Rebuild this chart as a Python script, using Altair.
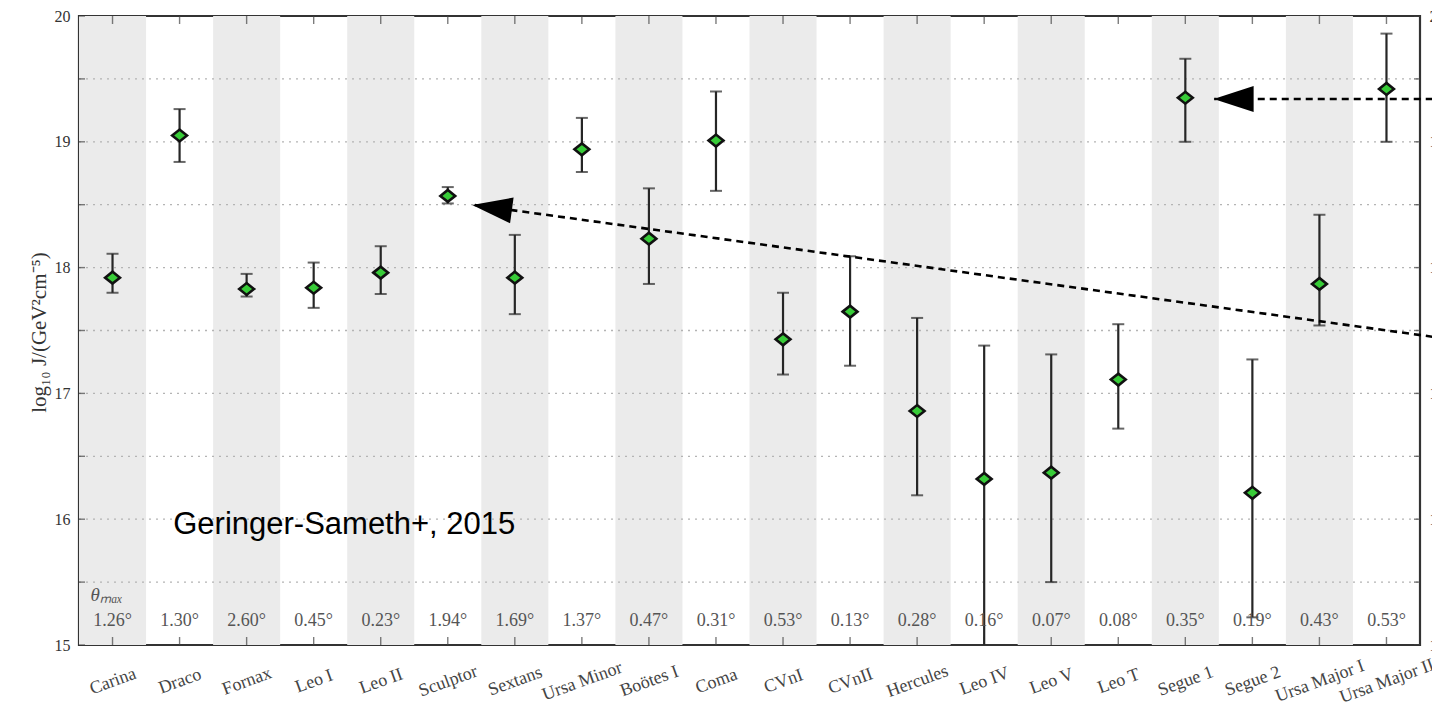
import json
import altair as alt
import pandas as pd

# Dwarf spheroidal galaxies and their J-factors (log10 J, with 1-sigma range)
names = ["Carina", "Draco", "Fornax", "Leo I", "Leo II", "Sculptor", "Sextans",
         "Ursa Minor", "Boötes I", "Coma", "CVnI", "CVnII", "Hercules", "Leo IV",
         "Leo V", "Leo T", "Segue 1", "Segue 2", "Ursa Major I", "Ursa Major II"]
theta_max = [1.26, 1.30, 2.60, 0.45, 0.23, 1.94, 1.69, 1.37, 0.47, 0.31,
             0.53, 0.13, 0.28, 0.16, 0.07, 0.08, 0.35, 0.19, 0.43, 0.53]
log_j = [17.92, 19.05, 17.83, 17.84, 17.96, 18.57, 17.92, 18.94, 18.23, 19.01,
         17.43, 17.65, 16.86, 16.32, 16.37, 17.11, 19.35, 16.21, 17.87, 19.42]
log_j_low = [17.80, 18.84, 17.77, 17.68, 17.79, 18.51, 17.63, 18.76, 17.87, 18.61,
             17.15, 17.22, 16.19, 14.50, 15.50, 16.72, 19.00, 15.22, 17.54, 19.00]
log_j_high = [18.11, 19.26, 17.95, 18.04, 18.17, 18.64, 18.26, 19.19, 18.63, 19.40,
              17.80, 18.09, 17.60, 17.38, 17.31, 17.55, 19.66, 17.27, 18.42, 19.86]

# Horizontal reference levels (dotted grid / ticks) and labelled levels
y_levels = [15.0, 15.5, 16.0, 16.5, 17.0, 17.5, 18.0, 18.5, 19.0, 19.5, 20.0]

# Annotation arrows pointing at Segue 1 and Sculptor (category index, log10 J)
arrow_from_x = [19.69, 19.69]
arrow_from_y = [19.34, 17.45]
arrow_to_x = [16.43, 5.37]
arrow_to_y = [19.34, 18.50]
head_x = [16.72, 5.66]
head_y = [19.34, 18.476]
head_angle = [0, 7.8]

df = pd.DataFrame({
    "idx": list(range(len(names))),
    "name": names,
    "theta": [f"{t:.2f}°" for t in theta_max],
    "j": log_j,
    "lo": log_j_low,
    "hi": log_j_high,
})
levels = pd.DataFrame({"v": y_levels})
inner_levels = pd.DataFrame({"v": y_levels[1:-1]})
arrows = pd.DataFrame({"x0": arrow_from_x, "y0": arrow_from_y,
                       "x1": arrow_to_x, "y1": arrow_to_y})
heads = pd.DataFrame({"x": head_x, "y": head_y, "a": head_angle})

W, H = 1341, 629
SERIF = "Liberation Serif"
AX = "#444444"

x_scale = alt.Scale(domain=[-0.5, 19.5], nice=False, zero=False)
y_scale = alt.Scale(domain=[15, 20], nice=False, zero=False)

x_axis = alt.Axis(
    values=list(range(len(names))),
    labelExpr=f"{json.dumps(names, ensure_ascii=False)}[datum.value]",
    labelAngle=-20, labelAlign="center", labelBaseline="middle",
    labelPadding=36, labelFont=SERIF, labelFontSize=18, labelColor=AX,
    labelFlush=False, labelOverlap=False, labelBound=False,
    ticks=False, domain=False, grid=False, title=None,
)
int_label = "datum.value % 1 === 0 ? format(datum.value, 'd') : ''"
y_axis = alt.Axis(
    values=y_levels, labelExpr=int_label, grid=False, ticks=False, domain=False,
    labelFont=SERIF, labelFontSize=16, labelColor="#333333", labelPadding=9,
    title="log₁₀ J/(GeV²cm⁻⁵)", titleFont=SERIF, titleFontSize=21,
    titleFontWeight="normal", titleColor="#333333",
    titleX=-40, titleY=316, titleAngle=270, titleAlign="center", titleBaseline="middle",
)
y_axis_right = alt.Axis(
    orient="right", values=y_levels, labelExpr=int_label, grid=False, ticks=False,
    domain=False, labelFont=SERIF, labelFontSize=16, labelColor="#333333",
    labelPadding=9, title=None,
)


def yd(value):
    """Constant y position on the shared scale, without an axis of its own."""
    return alt.Y(datum=value, axis=None)


def yf(field):
    return alt.Y(field, axis=None)


base = alt.Chart(df)

# alternating grey column bands
bands = base.transform_filter("datum.idx % 2 == 0").transform_calculate(
    x0="datum.idx - 0.5", x1="datum.idx + 0.5"
).mark_rect(color="#ebebeb").encode(
    x=alt.X("x0:Q", scale=x_scale, axis=x_axis),
    x2="x1:Q",
    y=alt.Y(datum=20, scale=y_scale, axis=y_axis),
    y2=alt.datum(15),
)

# dotted horizontal grid
grid = alt.Chart(inner_levels).mark_rule(
    color="#b4b4b4", strokeDash=[2, 5], strokeWidth=1.3
).encode(
    x=alt.datum(-0.5), x2=alt.datum(19.5),
    y=alt.Y("v:Q", scale=y_scale, axis=y_axis_right),
)

# inward ticks on all four sides
tick_style = dict(color=AX, thickness=1.4, clip=True)
top_ticks = base.mark_tick(orient="vertical", size=16, **tick_style).encode(
    x="idx:Q", y=yd(20))
bottom_ticks = base.mark_tick(orient="vertical", size=16, **tick_style).encode(
    x="idx:Q", y=yd(15))
left_ticks = alt.Chart(levels).mark_tick(orient="horizontal", size=12, **tick_style).encode(
    x=alt.datum(-0.5), y=yf("v:Q"))
right_ticks = alt.Chart(levels).mark_tick(orient="horizontal", size=12, **tick_style).encode(
    x=alt.datum(19.5), y=yf("v:Q"))

# error bars with caps
bar_color = "#262626"
err = base.mark_rule(color=bar_color, strokeWidth=2.2, clip=True).encode(
    x="idx:Q", y=yf("lo:Q"), y2="hi:Q")
cap_lo = base.mark_tick(orient="horizontal", size=12, thickness=2, color=bar_color,
                        clip=True).encode(x="idx:Q", y=yf("lo:Q"))
cap_hi = base.mark_tick(orient="horizontal", size=12, thickness=2, color=bar_color,
                        clip=True).encode(x="idx:Q", y=yf("hi:Q"))

# diamond markers
diamond = "M -1 0 L 0 -0.8 L 1 0 L 0 0.8 Z"
points = base.mark_point(
    shape=diamond, size=220, filled=True, fill="#38cc38", stroke="#111111",
    strokeWidth=2.6, opacity=1,
).encode(x="idx:Q", y=yf("j:Q"))

# theta_max row
theta_text = base.mark_text(font=SERIF, fontSize=18, color="#555555").encode(
    x="idx:Q", y=yd(15.19), text="theta:N")
theta_head = alt.Chart(pd.DataFrame({"t": ["θₘₐₓ"]})).mark_text(
    font=SERIF, fontSize=19, fontStyle="italic", color="#555555", align="left"
).encode(x=alt.datum(-0.33), y=yd(15.40), text="t:N")

# reference label
ref_text = alt.Chart(pd.DataFrame({"t": ["Geringer-Sameth+, 2015"]})).mark_text(
    font="Liberation Sans", fontSize=31, color="black", align="left", baseline="middle"
).encode(x=alt.datum(0.905), y=yd(15.95), text="t:N")

# dashed arrows
arrow_lines = alt.Chart(arrows).mark_rule(
    color="black", strokeDash=[7, 5], strokeWidth=2.6
).encode(x="x0:Q", y=yf("y0:Q"), x2="x1:Q", y2="y1:Q")
arrow_heads = alt.Chart(heads).mark_point(
    shape="M -1 0 L 1 -0.65 L 1 0.65 Z", size=1600, filled=True, color="black", opacity=1
).encode(x="x:Q", y=yf("y:Q"), angle=alt.Angle("a:Q", scale=None))

chart = alt.layer(
    bands, grid, top_ticks, bottom_ticks, left_ticks, right_ticks,
    err, cap_lo, cap_hi, points, theta_text, theta_head, ref_text,
    arrow_lines, arrow_heads,
).resolve_axis(y="independent").properties(
    width=W, height=H,
    autosize=alt.AutoSizeParams(type="none"),
    padding={"left": 79, "top": 16, "right": 12, "bottom": 73},
    background="white",
).configure_view(stroke="#333333", strokeWidth=2.2)

chart.save("out.html", embed_options={"renderer": "svg", "actions": False})
